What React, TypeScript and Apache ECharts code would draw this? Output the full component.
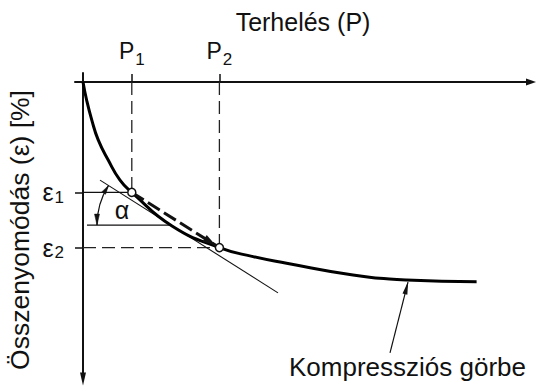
import React, { useEffect, useRef } from 'react';
import * as echarts from 'echarts';

const FONT = '"Liberation Sans", Arial, Helvetica, sans-serif';
const INK = '#111';

// Load steps P1, P2 and the strains ε1, ε2 that belong to them
const loadLevels = [12.2, 34.1];
const loadIndex = ['1', '2'];
const strainLevels = [36.8, 55.2];
const strainIndex = ['1', '2'];

// Compression curve: strain against load
const curveLoad = [0, 0.9, 2.2, 3.8, 6.3, 9.25, 12.2, 22.25, 34.1, 42.5, 50.9, 67.5, 80.9, 98.4];
const curveStrain = [0, 6, 12.7, 19.3, 26, 32.7, 36.8, 48, 55.2, 58.2, 60.4, 64.3, 66, 66.6];

// Tangent drawn parallel to the P1–P2 chord
const tangentLoad = [4.25, 48.75];
const tangentStrain = [32.7, 70.3];

// Horizontal reference line of the slope angle α
const alphaBaseLoad = [1, 22];
const alphaBaseStrain = 47.7;

// Pointer from the caption to the curve
const pointerLoad = [76.75, 81.25];
const pointerStrain = [90.3, 66.7];

const zip = (xs: number[], ys: number[] | number) =>
  xs.map((x, i) => [x, Array.isArray(ys) ? ys[i] : ys]);

export default function App() {
  const ref = useRef<HTMLDivElement>(null);

  useEffect(() => {
    const chart = echarts.init(ref.current!, null, { renderer: 'svg' });

    const thin = { color: INK, width: 1.1 };
    const dashed = { color: '#222', width: 1.3, type: [13, 6] };
    const guide = (data: any[], lineStyle: any) => ({
      type: 'line',
      data,
      symbol: 'none',
      silent: true,
      lineStyle,
      z: 2,
    });

    const arrowHead = (tip: number[], dir: number[], len: number, wid: number) => {
      const bx = tip[0] - dir[0] * len;
      const by = tip[1] - dir[1] * len;
      const nx = -dir[1] * wid / 2;
      const ny = dir[0] * wid / 2;
      return {
        type: 'polygon',
        shape: { points: [tip, [bx + nx, by + ny], [bx - nx, by - ny]] },
        style: { fill: INK, stroke: INK, lineWidth: 0.5 },
      };
    };

    chart.setOption({
      animation: false,
      backgroundColor: '#fff',
      textStyle: { fontFamily: FONT },
      grid: { left: 75, top: 73, width: 456, height: 306, containLabel: false, outerBoundsMode: 'none' },
      xAxis: {
        type: 'value',
        position: 'top',
        min: -2,
        max: 112,
        axisLine: {
          onZero: true,
          lineStyle: { color: INK, width: 2 },
          symbol: ['none', 'triangle'],
          symbolSize: [7, 10],
        },
        axisTick: { show: true, customValues: loadLevels, length: 8, lineStyle: { color: INK, width: 1.5 } },
        axisLabel: {
          customValues: loadLevels,
          margin: 5,
          formatter: (v: number) => `{m|P}{s|${loadIndex[loadLevels.indexOf(v)] ?? ''}}`,
          rich: {
            m: { fontSize: 23, fontFamily: FONT, color: INK },
            s: { fontSize: 17, fontFamily: FONT, color: INK, padding: [18, 0, 0, 1] },
          },
        },
        splitLine: { show: false },
        name: 'Terhelés (P)',
        nameLocation: 'middle',
        nameGap: 39,
        nameMoveOverlap: false,
        nameTextStyle: { fontSize: 25, fontFamily: FONT, color: INK },
      },
      yAxis: {
        type: 'value',
        inverse: true,
        min: -3,
        max: 99,
        axisLine: {
          onZero: true,
          lineStyle: { color: INK, width: 2 },
          symbol: ['triangle', 'none'],
          symbolSize: [6, 13],
        },
        axisTick: { show: true, customValues: strainLevels, length: 8, lineStyle: { color: INK, width: 1.5 } },
        axisLabel: {
          customValues: strainLevels,
          margin: 11,
          formatter: (v: number) => `{m|ε}{s|${strainIndex[strainLevels.indexOf(v)] ?? ''}}`,
          rich: {
            m: { fontSize: 25, fontFamily: FONT, color: INK },
            s: { fontSize: 17, fontFamily: FONT, color: INK, padding: [10, 0, 0, 1] },
          },
        },
        splitLine: { show: false },
        name: 'Összenyomódás (ε) [%]',
        nameLocation: 'middle',
        nameRotate: 90,
        nameGap: 42,
        nameMoveOverlap: false,
        nameTextStyle: { fontSize: 26.5, fontFamily: FONT, color: INK, padding: [0, 8, 0, 0] },
      },
      series: [
        // vertical guides from the load axis down to the curve
        ...loadLevels.map((p, i) => guide([[p, 0], [p, strainLevels[i]]], dashed)),
        // ε1 level, solid; ε2 level, dashed
        guide([[0, strainLevels[0]], [loadLevels[0], strainLevels[0]]], thin),
        guide([[0, strainLevels[1]], [loadLevels[1], strainLevels[1]]], dashed),
        // tangent and horizontal reference of α
        guide(zip(tangentLoad, tangentStrain), thin),
        guide(zip(alphaBaseLoad, alphaBaseStrain), thin),
        {
          type: 'line',
          name: 'Kompressziós görbe',
          data: zip(curveLoad, curveStrain),
          smooth: 0.5,
          symbol: 'none',
          silent: true,
          lineStyle: { color: '#000', width: 3 },
          z: 3,
          markLine: {
            silent: true,
            symbol: ['none', 'triangle'],
            symbolSize: [5, 13],
            symbolOffset: [[0, 0], [0, 6]],
            label: { show: false },
            lineStyle: { color: INK, width: 1.2, type: 'solid' },
            data: [[{ coord: [pointerLoad[0], pointerStrain[0]] }, { coord: [pointerLoad[1], pointerStrain[1]] }]],
          },
        },
        {
          // chord P1–P2 and the two measured points
          type: 'scatter',
          data: zip(loadLevels, strainLevels),
          symbol: 'circle',
          symbolSize: 8,
          silent: true,
          itemStyle: { color: '#fff', borderColor: INK, borderWidth: 1.5, opacity: 1 },
          z: 6,
          markLine: {
            silent: true,
            symbol: ['none', 'triangle'],
            symbolSize: [8, 13],
            symbolOffset: [[0, 0], [0, 11]],
            label: { show: false },
            lineStyle: { color: INK, width: 3, type: [14, 5] },
            z: 4,
            data: [[
              { coord: [loadLevels[0], strainLevels[0]] },
              { coord: [loadLevels[1], strainLevels[1]] },
            ]],
          },
        },
        {
          // angle arc α between the tangent and the horizontal
          type: 'custom',
          coordinateSystem: 'cartesian2d',
          data: [[alphaBaseLoad[1], alphaBaseStrain]],
          silent: true,
          clip: false,
          z: 5,
          renderItem: (_params: any, api: any) => {
            const v = api.coord([api.value(0), api.value(1)]);
            const t = api.coord([tangentLoad[0], tangentStrain[0]]);
            const r = 74;
            let end = Math.atan2(t[1] - v[1], t[0] - v[0]);
            if (end < 0) end += Math.PI * 2;
            const start = Math.PI;
            const bottom = [v[0] + r * Math.cos(start), v[1] + r * Math.sin(start)];
            const top = [v[0] + r * Math.cos(end), v[1] + r * Math.sin(end)];
            return {
              type: 'group',
              children: [
                {
                  type: 'arc',
                  shape: { cx: v[0], cy: v[1], r, startAngle: start, endAngle: end, clockwise: true },
                  style: { stroke: INK, lineWidth: 1.3, fill: null },
                },
                arrowHead(bottom, [Math.sin(start), -Math.cos(start)], 11, 5),
                arrowHead(top, [-Math.sin(end), Math.cos(end)], 9, 4.5),
              ],
            };
          },
        },
      ],
      graphic: [
        {
          type: 'text',
          x: 122,
          y: 210,
          style: { text: 'α', fontSize: 25, fontFamily: FONT, fill: INK, align: 'center', verticalAlign: 'middle' },
        },
        {
          type: 'text',
          x: 289,
          y: 367,
          style: { text: 'Kompressziós görbe', fontSize: 26, fontFamily: FONT, fill: INK, align: 'left', verticalAlign: 'middle' },
        },
      ],
    });

    return () => chart.dispose();
  }, []);

  return <div ref={ref} style={{ position: 'fixed', left: 0, top: 0, width: 536, height: 387 }} />;
}
